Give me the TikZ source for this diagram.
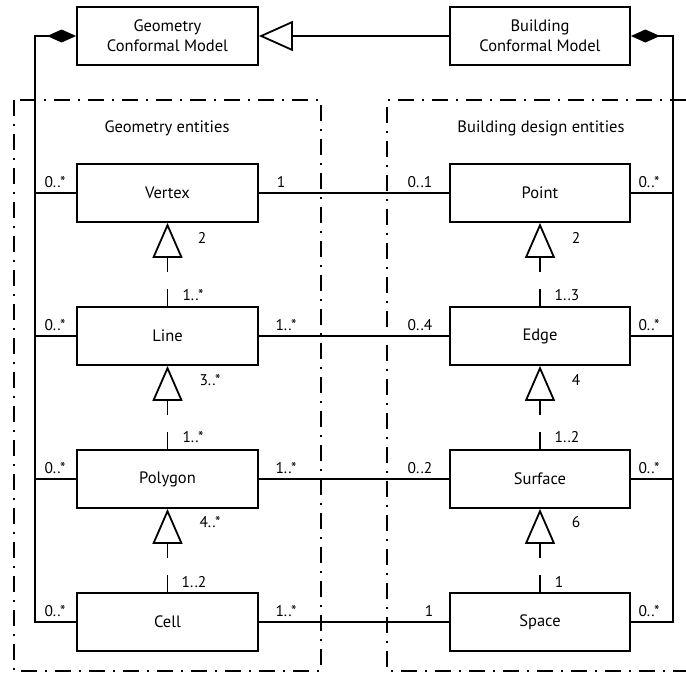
\documentclass[tikz,border=0pt]{standalone}
\usepackage{fontspec}
\setmainfont{PT Sans}
\usetikzlibrary{arrows.meta}
\begin{document}
\begin{tikzpicture}[x=1pt,y=-1pt,line width=1.8pt,
  box/.style={draw,minimum width=181pt,minimum height=58pt,inner sep=0pt,align=center,font=\fontsize{16.5}{20}\selectfont},
  lab/.style={inner sep=0pt,font=\fontsize{15.5}{18}\selectfont},
  head/.style={inner sep=0pt,font=\fontsize{16.5}{20}\selectfont},
  frame/.style={line width=1.7pt,dash pattern=on 16pt off 8pt on 2pt off 8pt},
  gen/.style={-{Triangle[open,width=30pt,length=35pt]},dash pattern=on 17pt off 17pt on 300pt},
  hgen/.style={-{Triangle[open,width=30pt,length=34pt]}},
  compo/.style={-{Diamond[width=13pt,length=29pt]}}]
\clip (0,0) rectangle (686,680);
% frames
\draw[frame] (14,100) rectangle (321,671);
\draw[frame] (720,100) -- (387,100) -- (387,671) -- (720,671);
\node[head] (gh) at (167,128) {Geometry entities};
\node[head] (bh) at (541,128) {Building design entities};
% top boxes
\node[box] (gcm) at (167.5,36) {Geometry\\Conformal Model};
\node[box,minimum width=180pt] (bcm) at (540,36) {Building\\Conformal Model};
% left boxes
\node[box] (vertex) at (167.5,193) {Vertex};
\node[box] (line) at (167.5,336) {Line};
\node[box] (polygon) at (167.5,479) {Polygon};
\node[box] (cell) at (167.5,622) {Cell};
% right boxes
\node[box,minimum width=180pt] (point) at (540,193) {Point};
\node[box,minimum width=180pt] (edge) at (540,336) {Edge};
\node[box,minimum width=180pt] (surface) at (540,479) {Surface};
\node[box,minimum width=180pt] (space) at (540,622) {Space};
% bus coordinates
\coordinate (L) at (35,0);
\coordinate (R) at (673,0);
% generalization between models
\draw[hgen] (bcm.west) -- (gcm.east);
% compositions
\draw[compo] (cell.west) -- (cell.west -| L) -- (gcm.west -| L) -- (gcm.west);
\draw (vertex.west) -- (vertex.west -| L);
\draw (line.west) -- (line.west -| L);
\draw (polygon.west) -- (polygon.west -| L);
\draw[compo] (space.east) -- (space.east -| R) -- (bcm.east -| R) -- (bcm.east);
\draw (point.east) -- (point.east -| R);
\draw (edge.east) -- (edge.east -| R);
\draw (surface.east) -- (surface.east -| R);
% associations
\draw (vertex.east) -- (point.west);
\draw (line.east) -- (edge.west);
\draw (polygon.east) -- (surface.west);
\draw (cell.east) -- (space.west);
% vertical generalizations
\draw[gen] (line.north) -- (vertex.south);
\draw[gen] (polygon.north) -- (line.south);
\draw[gen] (cell.north) -- (polygon.south);
\draw[gen] (edge.north) -- (point.south);
\draw[gen] (surface.north) -- (edge.south);
\draw[gen] (space.north) -- (surface.south);
% multiplicities left bus
\node[lab] (l1) at (55,182) {0..*};
\node[lab] (l2) at (55,325) {0..*};
\node[lab] (l3) at (55,468) {0..*};
\node[lab] (l4) at (55,611) {0..*};
% right bus
\node[lab] (r1) at (649,182) {0..*};
\node[lab] (r2) at (649,325) {0..*};
\node[lab] (r3) at (649,468) {0..*};
\node[lab] (r4) at (649,611) {0..*};
% associations labels
\node[lab] (a1) at (281,182) {1};
\node[lab] (a2) at (286,325) {1..*};
\node[lab] (a3) at (286,468) {1..*};
\node[lab] (a4) at (286,611) {1..*};
\node[lab] (b1) at (420,182) {0..1};
\node[lab] (b2) at (420,325) {0..4};
\node[lab] (b3) at (420,468) {0..2};
\node[lab] (b4) at (429,611) {1};
% vertical labels left
\node[lab] (v1) at (202,238) {2};
\node[lab] (v2) at (193,295) {1..*};
\node[lab] (v3) at (210,380) {3..*};
\node[lab] (v4) at (193,437) {1..*};
\node[lab] (v5) at (210,522) {4..*};
\node[lab] (v6) at (194,582) {1..2};
% vertical labels right
\node[lab] (w1) at (576,238) {2};
\node[lab] (w2) at (567,295) {1..3};
\node[lab] (w3) at (576,380) {4};
\node[lab] (w4) at (567,437) {1..2};
\node[lab] (w5) at (576,522) {6};
\node[lab] (w6) at (559,582) {1};
\end{tikzpicture}
\end{document}
